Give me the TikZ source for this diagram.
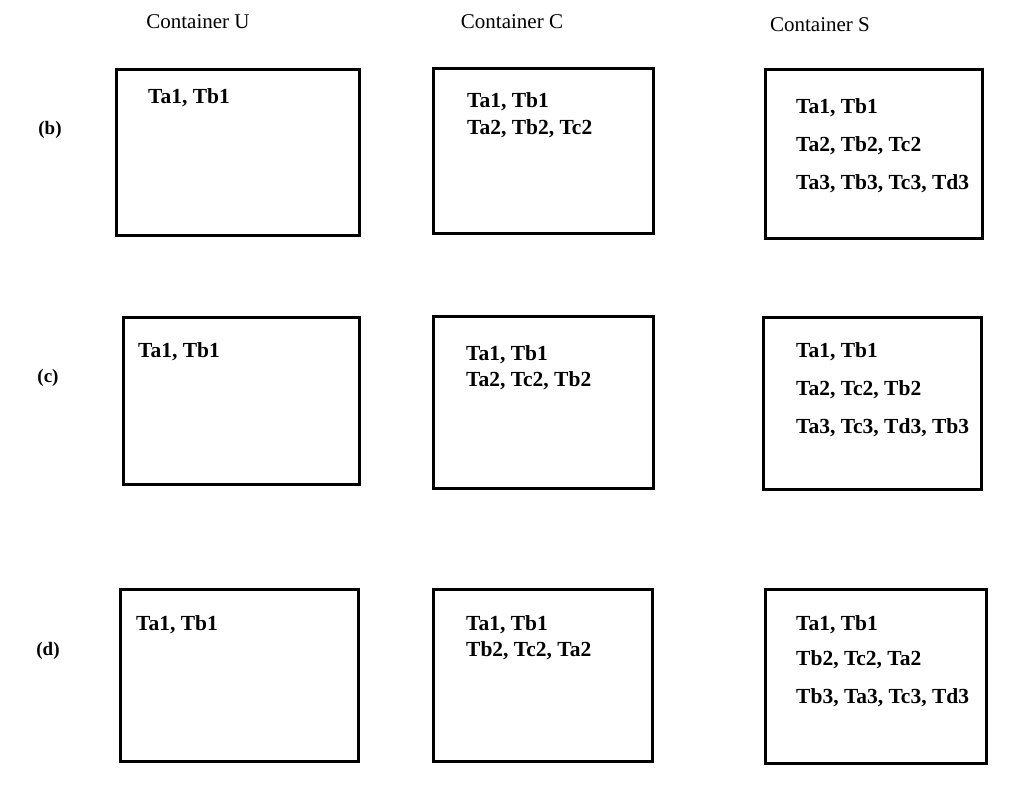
\documentclass[tikz,border=0pt]{standalone}
\usepackage{fontspec}
\setmainfont{Liberation Serif}
\begin{document}
\begin{tikzpicture}[x=1pt,y=-1pt,
  box/.style={draw, line width=2.6pt, anchor=north west, inner sep=0pt},
  txt/.style={anchor=west, inner sep=0pt, font=\bfseries\fontsize{21.5}{25}\selectfont},
  hdr/.style={anchor=center, inner sep=0pt, font=\fontsize{21}{25}\selectfont},
  lbl/.style={anchor=center, inner sep=0pt, font=\bfseries\fontsize{19}{23}\selectfont}]
\useasboundingbox (0,0) rectangle (1013,804);
% headers
\node[hdr] (hU) at (198,22) {Container U};
\node[hdr] (hC) at (512,22) {Container C};
\node[hdr] (hS) at (820,25) {Container S};
% row labels
\node[lbl] (lb) at (50,130) {(b)};
\node[lbl] (lc) at (48,378) {(c)};
\node[lbl] (ld) at (48,651) {(d)};
% row (b)
\node[box, minimum width=243pt, minimum height=166pt] (bU) at (115,68) {};
\node[box, minimum width=220pt, minimum height=165pt] (bC) at (432,67) {};
\node[box, minimum width=217pt, minimum height=169pt] (bS) at (764,68) {};
\node[txt] (bU1) at (148,98) {Ta1, Tb1};
\node[txt] (bC1) at (467,102) {Ta1, Tb1};
\node[txt] (bC2) at (467,129) {Ta2, Tb2, Tc2};
\node[txt] (bS1) at (796,108) {Ta1, Tb1};
\node[txt] (bS2) at (796,146) {Ta2, Tb2, Tc2};
\node[txt] (bS3) at (796,184) {Ta3, Tb3, Tc3, Td3};
% row (c)
\node[box, minimum width=236pt, minimum height=167pt] (cU) at (122,316) {};
\node[box, minimum width=220pt, minimum height=172pt] (cC) at (432,315) {};
\node[box, minimum width=218pt, minimum height=172pt] (cS) at (762,316) {};
\node[txt] (cU1) at (138,352) {Ta1, Tb1};
\node[txt] (cC1) at (466,355) {Ta1, Tb1};
\node[txt] (cC2) at (466,381) {Ta2, Tc2, Tb2};
\node[txt] (cS1) at (796,352) {Ta1, Tb1};
\node[txt] (cS2) at (796,390) {Ta2, Tc2, Tb2};
\node[txt] (cS3) at (796,428) {Ta3, Tc3, Td3, Tb3};
% row (d)
\node[box, minimum width=238pt, minimum height=172pt] (dU) at (119,588) {};
\node[box, minimum width=219pt, minimum height=172pt] (dC) at (432,588) {};
\node[box, minimum width=221pt, minimum height=174pt] (dS) at (764,588) {};
\node[txt] (dU1) at (136,625) {Ta1, Tb1};
\node[txt] (dC1) at (466,625) {Ta1, Tb1};
\node[txt] (dC2) at (466,651) {Tb2, Tc2, Ta2};
\node[txt] (dS1) at (796,625) {Ta1, Tb1};
\node[txt] (dS2) at (796,660) {Tb2, Tc2, Ta2};
\node[txt] (dS3) at (796,698) {Tb3, Ta3, Tc3, Td3};
\end{tikzpicture}
\end{document}
